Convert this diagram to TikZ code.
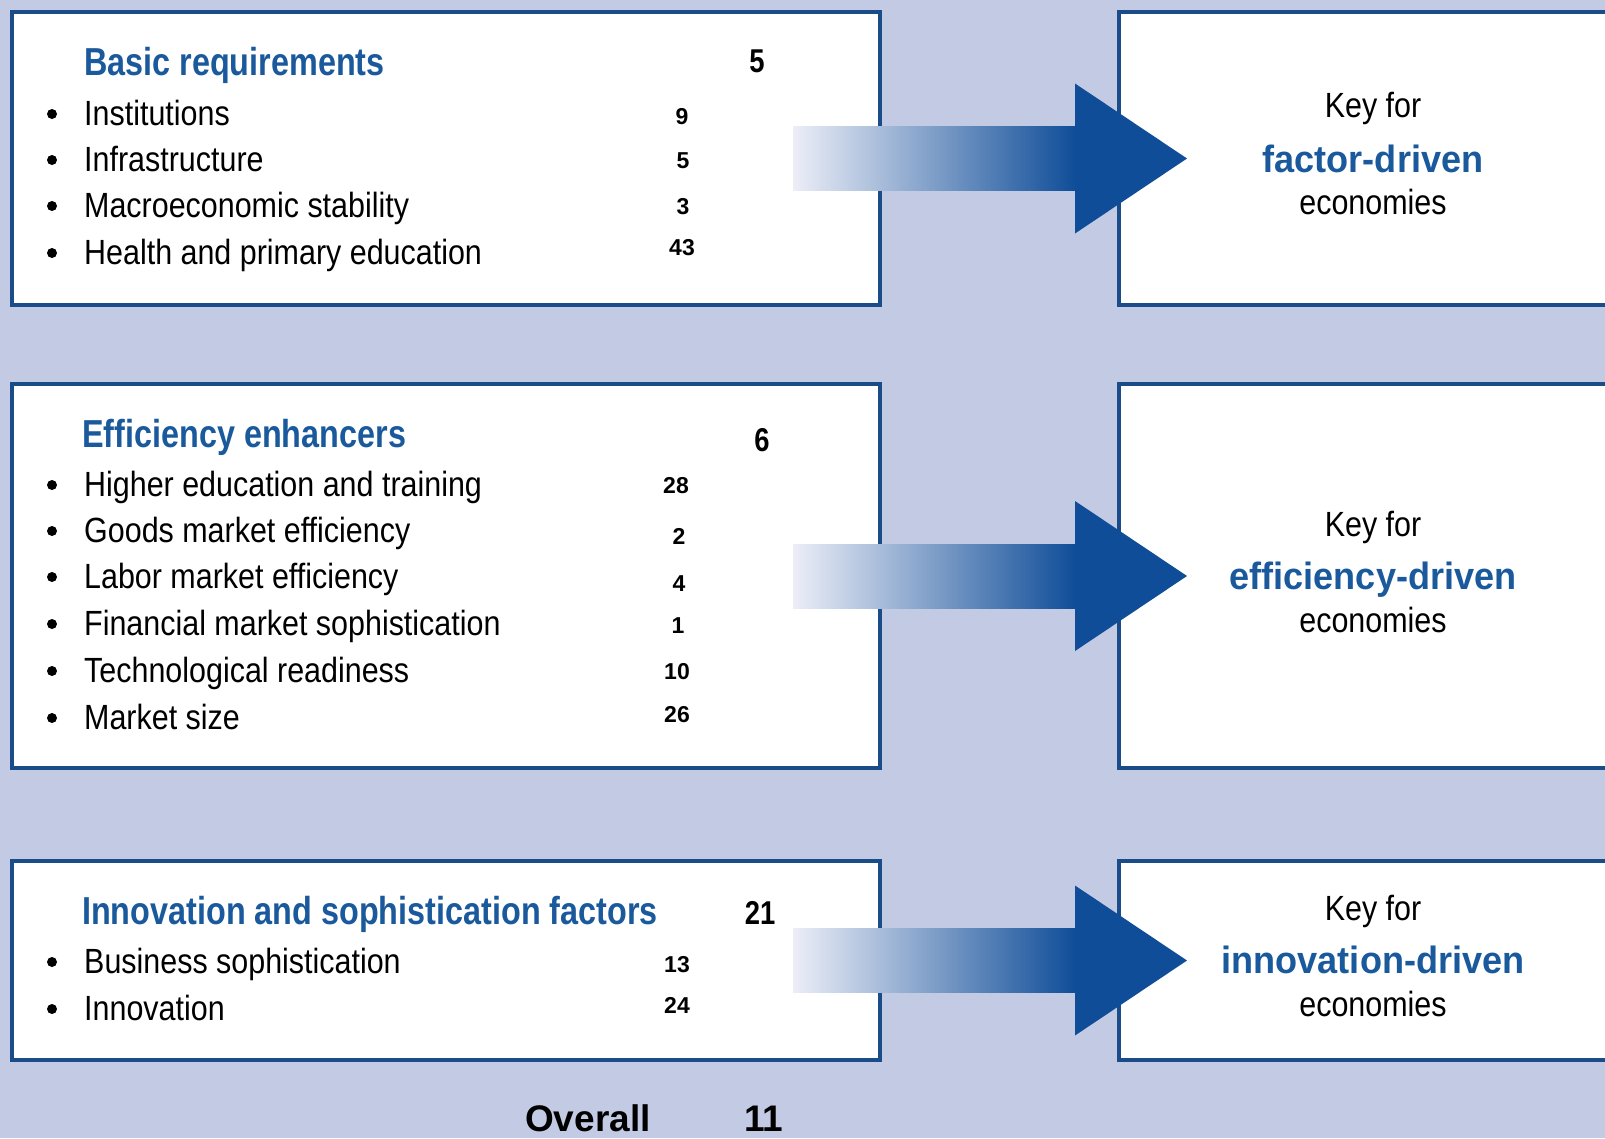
\documentclass[tikz,border=0pt]{standalone}
\usepackage{fontspec}
\usetikzlibrary{calc}
\setmainfont{Liberation Sans}
\newfontfamily\narrowfont{Liberation Sans}[FakeStretch=0.87]
\newfontfamily\headfont{Liberation Sans}[FakeStretch=0.83]
\newfontfamily\keyfont{Liberation Sans}[FakeStretch=0.95]

\definecolor{pagebg}{HTML}{C3CAE4}
\definecolor{frameblue}{HTML}{1A4C8A}
\definecolor{headblue}{HTML}{1A5A9C}
\definecolor{arrowblue}{HTML}{0F4D98}
\definecolor{shaftlight}{HTML}{ECEEF7}

\tikzset{
  panel/.style={draw=frameblue, line width=4.5pt, fill=white, inner sep=0pt, outer sep=0pt},
  heading/.style={anchor=base west, inner sep=0pt, text=headblue,
    font=\headfont\bfseries\fontsize{39}{44}\selectfont},
  entry/.style={anchor=base west, inner sep=0pt,
    font=\narrowfont\fontsize{35}{40}\selectfont},
  rank/.style={anchor=base, inner sep=0pt, font=\bfseries\fontsize{23}{26}\selectfont},
  bigrank/.style={anchor=base, inner sep=0pt, font=\headfont\bfseries\fontsize{33}{36}\selectfont},
  dot/.style={circle, fill=black, inner sep=0pt, minimum size=10pt},
  keyline/.style={anchor=base, inner sep=0pt, font=\narrowfont\fontsize{35}{40}\selectfont},
  keystage/.style={anchor=base, inner sep=0pt, text=headblue,
    font=\keyfont\bfseries\fontsize{38}{42}\selectfont},
  total/.style={anchor=base west, inner sep=0pt, font=\bfseries\fontsize{37}{40}\selectfont},
}

% shaded shaft from the pillar box into the stage box, solid head
\newcommand\stagearrow[2]{%
  \shade[left color=shaftlight, right color=arrowblue]
    ($(#1.east)+(-87,-32)$) rectangle ($(#2.west)+(-43,32)$);
  \fill[arrowblue] ($(#2.west)+(-44,-75)$) -- ($(#2.west)+(68,0)$)
    -- ($(#2.west)+(-44,75)$) -- cycle;
}

\begin{document}
\begin{tikzpicture}[x=1pt, y=-1pt]
\useasboundingbox (0,0) rectangle (1605,1138);
\clip (0,0) rectangle (1605,1138);
\fill[pagebg] (0,0) rectangle (1605,1138);

% pillar boxes
\node[panel, minimum width=868pt, minimum height=293pt] (basic) at (446,158.5) {};
\node[panel, minimum width=868pt, minimum height=384pt] (effic) at (446,576) {};
\node[panel, minimum width=868pt, minimum height=199pt] (innov) at (446,960.5) {};

% stage boxes
\node[panel, minimum width=521pt, minimum height=293pt] (factor) at (1379.5,158.5) {};
\node[panel, minimum width=521pt, minimum height=384pt] (effstage) at (1379.5,576) {};
\node[panel, minimum width=521pt, minimum height=199pt] (innstage) at (1379.5,960.5) {};

% arrows
\stagearrow{basic}{factor}
\stagearrow{effic}{effstage}
\stagearrow{innov}{innstage}

% Basic requirements
\node[heading] (h1) at (84,75) {Basic requirements};
\node[bigrank] (r1) at (757,72) {5};
\node[dot] (d11) at (52,114) {};
\node[dot] (d12) at (52,160) {};
\node[dot] (d13) at (52,206) {};
\node[dot] (d14) at (52,253) {};
\node[entry] (e11) at (84,125) {Institutions};
\node[entry] (e12) at (84,171) {Infrastructure};
\node[entry] (e13) at (84,217) {Macroeconomic stability};
\node[entry] (e14) at (84,264) {Health and primary education};
\node[rank] (n11) at (682,124) {9};
\node[rank] (n12) at (683,168) {5};
\node[rank] (n13) at (683,214) {3};
\node[rank] (n14) at (682,255) {43};

% Efficiency enhancers
\node[heading] (h2) at (82,447) {Efficiency enhancers};
\node[bigrank] (r2) at (762,451) {6};
\node[dot] (d21) at (52,485) {};
\node[dot] (d22) at (52,531) {};
\node[dot] (d23) at (52,577) {};
\node[dot] (d24) at (52,624) {};
\node[dot] (d25) at (52,671) {};
\node[dot] (d26) at (52,718) {};
\node[entry] (e21) at (84,496) {Higher education and training};
\node[entry] (e22) at (84,542) {Goods market efficiency};
\node[entry] (e23) at (84,588) {Labor market efficiency};
\node[entry] (e24) at (84,635) {Financial market sophistication};
\node[entry] (e25) at (84,682) {Technological readiness};
\node[entry] (e26) at (84,729) {Market size};
\node[rank] (n21) at (676,493) {28};
\node[rank] (n22) at (679,544) {2};
\node[rank] (n23) at (679,591) {4};
\node[rank] (n24) at (678,633) {1};
\node[rank] (n25) at (677,679) {10};
\node[rank] (n26) at (677,722) {26};

% Innovation and sophistication factors
\node[heading] (h3) at (82,924) {Innovation and sophistication factors};
\node[bigrank] (r3) at (760,924) {21};
\node[dot] (d31) at (52,962) {};
\node[dot] (d32) at (52,1009) {};
\node[entry] (e31) at (84,973) {Business sophistication};
\node[entry] (e32) at (84,1020) {Innovation};
\node[rank] (n31) at (677,972) {13};
\node[rank] (n32) at (677,1013) {24};

% stage labels
\node[keyline] (k11) at (1373,117) {Key for};
\node[keystage] (k12) at (1373,172) {factor-driven};
\node[keyline] (k13) at (1373,214) {economies};
\node[keyline] (k21) at (1373,536) {Key for};
\node[keystage] (k22) at (1373,589) {efficiency-driven};
\node[keyline] (k23) at (1373,632) {economies};
\node[keyline] (k31) at (1373,920) {Key for};
\node[keystage] (k32) at (1373,973) {innovation-driven};
\node[keyline] (k33) at (1373,1016) {economies};

% overall rank
\node[total] (ov) at (525,1131) {Overall};
\node[total] (ovn) at (744,1131) {11};
\end{tikzpicture}
\end{document}
